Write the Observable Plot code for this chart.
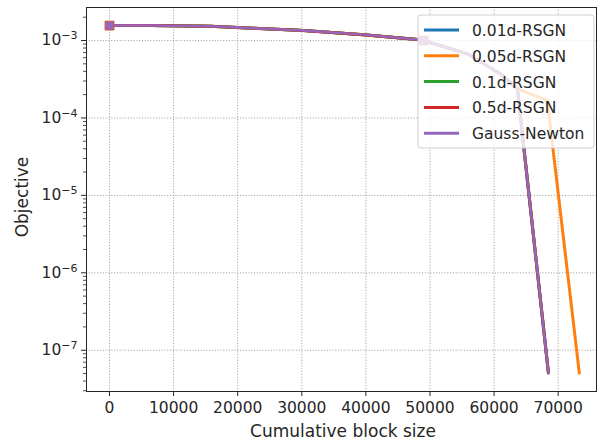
<!DOCTYPE html>
<html><head><meta charset="utf-8">
<script src="https://cdn.jsdelivr.net/npm/d3@7"></script>
<script src="https://cdn.jsdelivr.net/npm/@observablehq/plot@0.6"></script>
<style>body{margin:0;background:#fff;font-family:"DejaVu Sans",sans-serif;}</style>
</head><body><div id="chart"></div>
<script>
// ---- data ----
const seriesNames = ["0.01d-RSGN", "0.05d-RSGN", "0.1d-RSGN", "0.5d-RSGN", "Gauss-Newton"];
const seriesColors = ["#1f77b4", "#ff7f0e", "#2ca02c", "#d62728", "#9467bd"];

const xCommon = [0, 6400, 15760, 22460, 30270, 39630, 48050, 49000, 55850, 61000, 63650];
const yCommon = [1.56e-3, 1.56e-3, 1.53e-3, 1.44e-3, 1.35e-3, 1.19e-3, 1.03e-3, 1.0e-3, 6.73e-4, 3.7e-4, 2.37e-4];

const xTailFast = [64740, 68500];
const yTailFast = [3.5e-5, 4.9e-8];
const xTail005 = [68330, 69270, 73320];
const yTail005 = [1.67e-4, 3.5e-5, 4.9e-8];

const markerX = [0, 49000];
const markerY = [1.56e-3, 1.0e-3];

const xTicks = [0, 10000, 20000, 30000, 40000, 50000, 60000, 70000];
const yTicks = [1e-7, 1e-6, 1e-5, 1e-4, 1e-3];
const xLabel = "Cumulative block size";
const yLabel = "Objective";

// ---- build tables ----
function seriesRows(name) {
  const xs = xCommon.concat(name === "0.05d-RSGN" ? xTail005 : xTailFast);
  const ys = yCommon.concat(name === "0.05d-RSGN" ? yTail005 : yTailFast);
  return xs.map((x, i) => ({series: name, x, y: ys[i]}));
}
const minorTicks = [];
for (let e = -8; e <= -3; e++) for (let k = 2; k <= 9; k++) {
  const v = k * Math.pow(10, e);
  if (v > 2.93e-8 && v < 2.67e-3) minorTicks.push(v);
}

const W = 597, H = 445;
const gridStyle = {stroke: "#8a8a8a", strokeOpacity: 1, strokeWidth: 0.8, strokeDasharray: "1.1,1.7"};

const lineMarks = seriesNames.map((name, i) =>
  Plot.line(seriesRows(name), {
    x: "x", y: "y",
    stroke: seriesColors[i],
    strokeWidth: name === "Gauss-Newton" ? 2.4 : 3,
    strokeLinejoin: "round", strokeLinecap: "butt"
  })
);
const markerRows = markerX.map((x, i) => ({x, y: markerY[i]}));

const chart = Plot.plot({
  width: W, height: H,
  marginLeft: 86, marginRight: 1, marginTop: 7, marginBottom: 54,
  style: {fontFamily: "DejaVu Sans", fontSize: "15.5px", color: "#262626", background: "#fff"},
  x: {domain: [-3590, 75980]},
  y: {type: "log", domain: [2.93e-8, 2.67e-3]},
  marks: [
    Plot.gridX(xTicks, gridStyle),
    Plot.gridY(yTicks, gridStyle),
    ...lineMarks,
    Plot.dot(markerRows, {x: "x", y: "y", symbol: "square", r: 5, fill: "#9467bd", stroke: "#d65a2a", strokeWidth: 1}),
    Plot.axisX(xTicks, {tickSize: 5, tickPadding: 5, tickFormat: d => String(d), label: null, stroke: "#262626"}),
    Plot.axisY(minorTicks, {tickSize: 3, tickFormat: () => "", label: null, stroke: "#262626", strokeWidth: 0.8}),
    Plot.axisY(yTicks, {tickSize: 5, tickPadding: 4, tickFormat: d => String(Math.round(Math.log10(d))), label: null, stroke: "#262626"}),
    Plot.frame({stroke: "#262626", strokeWidth: 1})
  ]
});
document.getElementById("chart").appendChild(chart);

const svg = d3.select(chart);
// superscript tick labels 10^k
svg.selectAll('g[aria-label="y-axis tick label"] text').each(function() {
  const t = d3.select(this);
  const exp = t.text();
  if (exp === "") return;
  t.text("");
  t.append("tspan").text("10");
  t.append("tspan").attr("font-size", "11px").attr("dy", "-6").text("\u2212" + exp.replace("-", ""));
});

// axis titles
svg.append("text").attr("x", 343).attr("y", 437).attr("text-anchor", "middle")
  .attr("font-size", "17px").attr("fill", "#262626").text(xLabel);
svg.append("text").attr("transform", "translate(28,197) rotate(-90)").attr("text-anchor", "middle")
  .attr("font-size", "17px").attr("fill", "#262626").text(yLabel);

// legend
const lg = svg.append("g").attr("font-size", "15.5px").attr("fill", "#262626").attr("text-anchor", "start");
lg.append("rect").attr("x", 418).attr("y", 15).attr("width", 176).attr("height", 133).attr("rx", 3)
  .attr("fill", "#fff").attr("fill-opacity", 0.8).attr("stroke", "#d0d0d0").attr("stroke-width", 1);
seriesNames.forEach((name, i) => {
  const y = 30 + i * 25.8;
  lg.append("line").attr("x1", 424).attr("x2", 459).attr("y1", y).attr("y2", y)
    .attr("stroke", seriesColors[i]).attr("stroke-width", 3);
  lg.append("text").attr("x", 472).attr("y", y + 6).attr("text-anchor", "start").text(name);
});
</script></body></html>
